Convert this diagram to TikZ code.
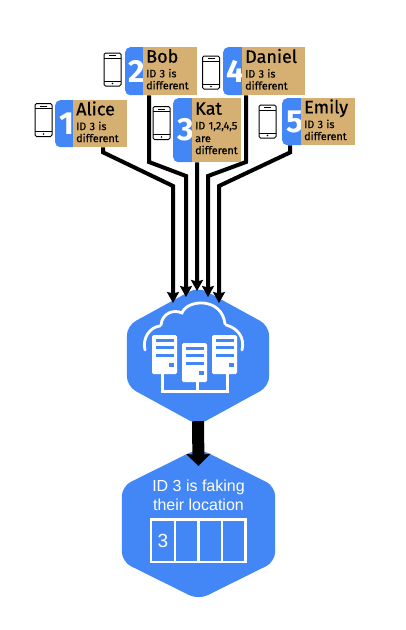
\documentclass[tikz,border=0pt]{standalone}
\usepackage{fontspec}
\setmainfont{Fira Sans}
\newfontfamily\namefont[FakeBold=0.5]{Fira Sans}
\newfontfamily\hexfont{Liberation Sans}
\usetikzlibrary{arrows.meta, positioning}
\definecolor{hexblue}{HTML}{4287F5}
\definecolor{cardtan}{HTML}{D6AF72}
\newcommand{\namedesc}[2]{\fontsize{18}{15}\namefont #1\\[2pt]\fontsize{10.8}{12.7}\selectfont #2\rule[-4pt]{0pt}{0pt}}
\newcommand{\fillhex}[2]{\fill[hexblue, rounded corners=10pt] (#1.north) -- ([yshift=-#2]#1.north east) -- ([yshift=#2]#1.south east) -- (#1.south) -- ([yshift=#2]#1.south west) -- ([yshift=-#2]#1.north west) -- cycle;}

\begin{document}
\begin{tikzpicture}[
  x=1pt, y=-1pt,
  hexbox/.style={rectangle, inner sep=0pt},
  numbox/.style={rectangle, fill=hexblue, rounded corners=5pt, anchor=north west, inner sep=0pt, text=white, font=\fontsize{32}{32}\bfseries\selectfont},
  namebox/.style={rectangle, fill=cardtan, anchor=north west, inner xsep=3pt, inner ysep=0pt, align=left},
  wire/.style={draw, line width=4pt, -{Stealth[length=11pt,width=12pt,inset=1.5pt]}},
  bigwire/.style={draw, line width=12pt, -{Stealth[length=12pt,width=24pt,inset=1pt]}},
  cell/.style={rectangle, draw=white, line width=2.5pt, minimum width=23.6pt, minimum height=42.5pt, inner sep=0pt, text=white, font=\fontsize{19}{19}\hexfont},
  phone/.pic={
    \draw[line width=1pt, rounded corners=1.5pt, fill=white] (-8.5,-16.5) rectangle (8.5,16.5);
    \draw[line width=.7pt] (-8.5,-11.5) -- (8.5,-11.5) (-8.5,11.5) -- (8.5,11.5);
    \draw[line width=1pt] (-3.5,-14) -- (3.5,-14);
    \fill (0,14) circle (.9pt);
  },
  server/.pic={
    \fill[white, rounded corners=1.5pt] (-12.5,-19.5) rectangle (12.5,19.5);
    \foreach \i in {-15.5,-8.5,-1} \fill[hexblue] (-9,\i) rectangle (9,\i+3.4);
    \fill[hexblue] (4.5,8.5) rectangle (9,12.5);
  }
  ]
\useasboundingbox (0,0) rectangle (406,630);

% Hexagons
\node[hexbox, minimum width=142pt, minimum height=138pt] (cloudhex) at (198,356) {};
\node[hexbox, minimum width=153pt, minimum height=151pt] (fakehex) at (198.5,524) {};
\fillhex{cloudhex}{39pt}
\fillhex{fakehex}{38pt}

% Cards
\node[numbox, minimum width=24pt, minimum height=47pt] (numalice) at (55,100) {1\hspace{6pt}};
\node[namebox, text width=48pt, minimum height=47pt] (alice) at (73,100) {\namedesc{Alice}{ID 3 is\\different}};
\node[numbox, minimum width=24pt, minimum height=48pt] (numbob) at (125,47) {2\hspace{6pt}};
\node[namebox, text width=48pt, minimum height=48pt] (bob) at (143,47) {\namedesc{Bob}{ID 3 is\\different}};
\node[numbox, minimum width=25pt, minimum height=64pt] (numkat) at (173,98) {3\hspace{6pt}};
\node[namebox, text width=43pt, minimum height=64pt] (kat) at (192,98) {\namedesc{Kat}{ID 1,2,4,5\\are\\different}};
\node[numbox, minimum width=25pt, minimum height=48pt] (numdaniel) at (223,47) {4\hspace{6pt}};
\node[namebox, text width=57pt, minimum height=48pt] (daniel) at (242,47) {\namedesc{Daniel}{ID 3 is\\different}};
\node[numbox, minimum width=25pt, minimum height=47pt] (numemily) at (282,98) {5\hspace{6pt}};
\node[namebox, text width=48pt, minimum height=47pt] (emily) at (301,98) {\namedesc{Emily}{ID 3 is\\different}};

% Phones
\pic at (43.5,120) {phone};
\pic at (112.5,69.5) {phone};
\pic at (161.5,123) {phone};
\pic at (211,72.5) {phone};
\pic at (267.5,121.5) {phone};

% Wires
\coordinate (inalice) at (173,303);
\coordinate (inbob) at (186,297);
\coordinate (inkat) at (197,291);
\coordinate (indaniel) at (208,297);
\coordinate (inemily) at (219,303);
\draw[wire] ([xshift=3pt]alice.south) -- ++(0,5) -- (173,186) -- (inalice);
\draw[wire] ([xshift=-21pt]bob.south) -- (149,162) -- (186,176) -- (inbob);
\draw[wire] ([xshift=-19.5pt]kat.south) -- (inkat);
\draw[wire] ([xshift=-27.5pt]daniel.south) -- (246,162) -- (208,176) -- (indaniel);
\draw[wire] ([xshift=-38pt]emily.south) -- ++(0,7) -- (219,186) -- (inemily);
\draw[bigwire] ([yshift=4pt]cloudhex.south) -- (198.5,466);

% Cloud icon
\draw[white, line width=2.8pt, line cap=round] (145,350) .. controls (142,338) and (150,327) .. (160,326);
\draw[white, line width=2.8pt, line cap=round] (161,325) .. controls (162,313) and (174,309) .. (182,313) .. controls (187,299) and (222,297) .. (225,324);
\draw[white, line width=2.8pt, line cap=round] (226,325) .. controls (238,328) and (245,338) .. (242,350);
\draw[white, line width=3pt] (162,372) -- (162,391) -- (227,391) -- (227,372);
\draw[white, line width=3pt] (197,381) -- (197,391);
\pic at (164.5,354.5) {server};
\pic at (194.5,362.5) {server};
\pic at (224.5,354.5) {server};

% Result text and table
\node[text=white, align=center, inner sep=0pt, font=\fontsize{16}{18.7}\hexfont] (faketext) at (198.5,495) {ID 3 is faking\\their location};
\node[cell] (cell1) at (163,540.5) {3};
\foreach \i [count=\j from 1] in {2,3,4}
  \node[cell, right=-2.5pt of cell\j] (cell\i) {};
\end{tikzpicture}
\end{document}
